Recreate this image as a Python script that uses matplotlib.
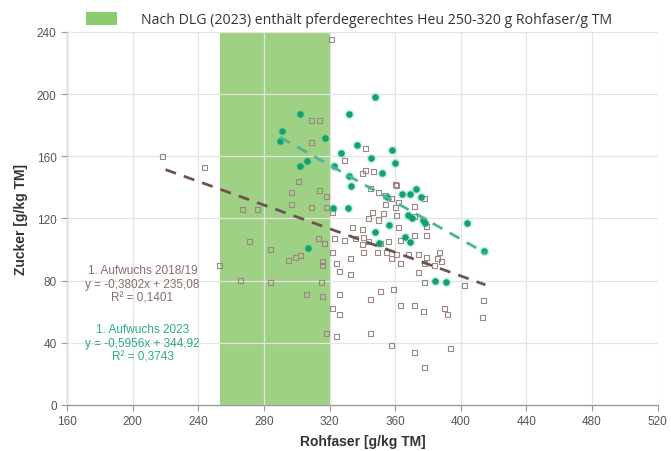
import matplotlib
matplotlib.use("Agg")
import matplotlib.pyplot as plt
from matplotlib.patches import Patch
import numpy as np

plt.rcParams["font.family"] = ["Liberation Sans", "DejaVu Sans"]

# 1. Aufwuchs 2023 (filled green dots)
x_2023 = [302, 291, 290, 317, 306, 302, 327, 323, 332, 333, 322, 331, 332, 348,
          337, 345, 358, 360, 352, 364, 369, 373, 376, 355, 368, 370, 377, 378,
          404, 356, 348, 366, 369, 350, 414, 307, 384, 391]
y_2023 = [187, 176, 170, 172, 157, 154, 162, 154, 147, 141, 127, 127, 187, 198,
          167, 159, 164, 156, 149, 136, 136, 139, 134, 134, 122, 120, 119, 117,
          117, 116, 111, 108, 105, 104, 99, 101, 80, 79]

# 1. Aufwuchs 2018/19 (open squares)
x_1819 = [218, 244, 267, 276, 271, 284, 253, 301, 297, 314, 297, 309, 318, 309,
          313, 299, 295, 316, 302, 322, 316, 284, 315, 306, 266, 316, 318, 321,
          309, 314,
          329, 342, 347, 340, 360, 345, 350, 354, 358, 362, 372, 378, 354, 360,
          346, 353, 361, 344, 350, 372, 362, 334, 340, 323, 329, 336, 341, 344,
          340, 351, 356, 363, 372, 341, 349, 355, 361, 368, 374, 379, 387, 386,
          358, 363, 333, 324, 378, 384, 388, 402, 379, 379, 372, 361, 342, 329,
          318, 322, 317,
          326, 322, 326, 324, 345, 351, 359, 363, 372, 377, 390, 392, 345, 358,
          372, 378, 394, 333, 326, 378, 374, 414, 413]
y_1819 = [160, 153, 126, 126, 105, 100, 90, 144, 137, 138, 129, 127, 127, 169,
          107, 95, 93, 92, 96, 98, 90, 79, 79, 71, 80, 70, 46, 235,
          183, 183,
          157, 151, 150, 149, 142, 139, 137, 135, 133, 130, 128, 133, 129, 127,
          124, 123, 122, 120, 119, 121, 114, 114, 113, 107, 106, 107, 108, 105,
          103, 104, 105, 106, 109, 98, 98, 98, 97, 97, 97, 95, 98, 94,
          94, 91, 94, 91, 91, 90, 92, 77, 115, 109, 109, 141, 165, 157,
          134, 124, 104,
          71, 62, 58, 44, 68, 73, 74, 64, 64, 60, 62, 58, 46, 38,
          34, 24, 36, 84, 86, 79, 85, 67, 56]

# trend lines (Excel)
fit_1819 = (-0.3802, 235.08)
fit_2023 = (-0.5956, 344.92)
range_1819 = (220, 415)
range_2023 = (290, 415)

# DLG band
band = (253, 320)

xticks = [160, 200, 240, 280, 320, 360, 400, 440, 480, 520]
yticks = [0, 40, 80, 120, 160, 200, 240]

fig = plt.figure(figsize=(6.71, 4.52), dpi=100)
ax = fig.add_axes([0.100, 0.102, 0.880, 0.825])

ax.axvspan(band[0], band[1], color="#9fd184", zorder=0.5, lw=0)

ax.scatter(x_1819, y_1819, marker="s", s=13, facecolor="none",
           edgecolor="#9b8682", linewidths=0.8, zorder=3)
ax.scatter(x_2023, y_2023, marker="o", s=48, color="#4fd6a6", alpha=0.3,
           linewidths=0, zorder=3.5)
ax.scatter(x_2023, y_2023, marker="o", s=22, color="#14a06c",
           linewidths=0, zorder=4)

xs = np.array(range_1819)
ax.plot(xs, fit_1819[0] * xs + fit_1819[1], ls=(0, (4, 3)), lw=2.0,
        color="#6e5450", zorder=5)
xs = np.array(range_2023)
ax.plot(xs, fit_2023[0] * xs + fit_2023[1], ls=(0, (4, 3)), lw=2.0,
        color="#4cb596", zorder=5)

ax.text(206, 78, "1. Aufwuchs 2018/19\ny = -0,3802x + 235,08\nR² = 0,1401",
        ha="center", va="center", fontsize=8.5, color="#8a6d68",
        linespacing=1.15, zorder=6)
ax.text(206, 40, "1. Aufwuchs 2023\ny = -0,5956x + 344,92\nR² = 0,3743",
        ha="center", va="center", fontsize=8.5, color="#2aaa8c",
        linespacing=1.15, zorder=6)

ax.set_xlim(160, 520)
ax.set_ylim(0, 240)
ax.set_xticks(xticks)
ax.set_yticks(yticks)
ax.grid(True, color="#e4e4e4", lw=0.9, zorder=1)
ax.set_axisbelow(False)
for g in ax.get_xgridlines() + ax.get_ygridlines():
    g.set_zorder(1)
for s in ["top", "right"]:
    ax.spines[s].set_visible(False)
for s in ["left", "bottom"]:
    ax.spines[s].set_color("#9a9a9a")
    ax.spines[s].set_linewidth(1.0)
    ax.spines[s].set_zorder(2)
ax.tick_params(colors="#9a9a9a", labelcolor="#555555", labelsize=8.5,
               length=4, width=0.8)

ax.set_xlabel("Rohfaser [g/kg TM]", fontsize=10, fontweight="bold",
              color="#333333", labelpad=5)
ax.set_ylabel("Zucker [g/kg TM]", fontsize=10, fontweight="bold",
              color="#333333", labelpad=6)

handle = Patch(facecolor="#8ccb6e", edgecolor="none")
fig.legend([handle], ["Nach DLG (2023) enthält pferdegerechtes Heu 250-320 g Rohfaser/g TM"],
           loc="center", bbox_to_anchor=(0.52, 0.955), frameon=False,
           handlelength=2.2, handleheight=1.1, handletextpad=1.7,
           prop={"family": "Open Sans", "size": 10.2}, labelcolor="#333333")

fig.savefig("out.png", dpi=100)
